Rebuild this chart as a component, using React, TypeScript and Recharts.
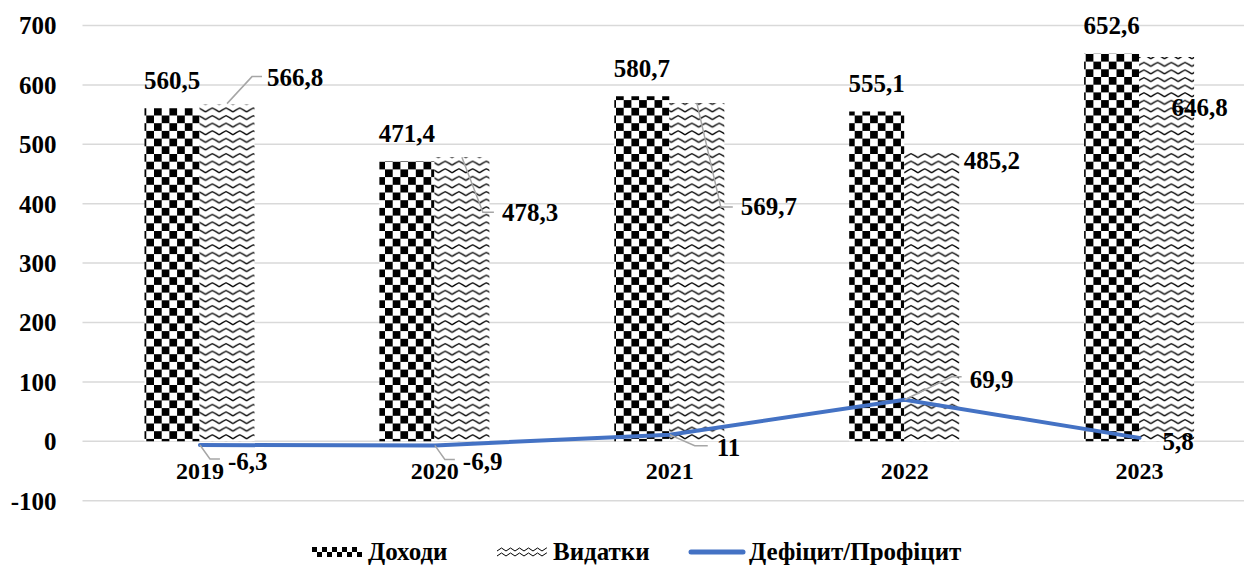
import React from "react";
import {
  ComposedChart,
  Bar,
  Line,
  XAxis,
  YAxis,
  CartesianGrid,
  Legend,
  LabelList,
} from "recharts";

// budget data, млрд грн
const years = ["2019", "2020", "2021", "2022", "2023"];
const income = [560.5, 471.4, 580.7, 555.1, 652.6];
const expenses = [566.8, 478.3, 569.7, 485.2, 646.8];
const balance = [-6.3, -6.9, 11, 69.9, 5.8];
const yTicks = [-100, 0, 100, 200, 300, 400, 500, 600, 700];

const data = years.map((year, i) => ({
  year,
  income: income[i],
  expenses: expenses[i],
  balance: balance[i],
}));

const FONT = '"Liberation Serif", "Times New Roman", serif';
const BLUE = "#4472C4";
const GRID = "#d9d9d9";
const LEADER = "#a6a6a6";

// manual label placement (relative to bar top / line point), like Excel's dragged labels
type Pos = { dx: number; dy: number; leader?: number[][] };
const EXP_POS: Pos[] = [
  { dx: 40, dy: -27, leader: [[0, -1], [25, -28], [35, -28]] },
  { dx: 40, dy: 55, leader: [[0, 0], [21, 55], [32, 55]] },
  { dx: 44, dy: 104, leader: [[0, 0], [24, 104], [36, 104]] },
  { dx: 32, dy: 7 },
  { dx: 5, dy: 50 },
];
const BAL_POS: Pos[] = [
  { dx: 28, dy: 16, leader: [[0, 0], [10, 14], [20, 14]] },
  { dx: 28, dy: 16, leader: [[0, 0], [10, 14], [20, 14]] },
  { dx: 47, dy: 13, leader: [[0, 0], [25, 11], [38, 11]] },
  { dx: 65, dy: -20, leader: [[0, 0], [47, -23], [57, -23]] },
  { dx: 23, dy: 4 },
];

// legend item start x, in page px
const LEGEND_ORDER = ["income", "expenses", "balance"];
const LEGEND_X = [312, 497, 688];

const fmt = (v: number) => String(v).replace(".", ",");

const labelText = {
  fontFamily: FONT,
  fontWeight: 700,
  fontSize: 25,
  fill: "#000",
};

function PlacedLabel({ ax, ay, pos, value }: { ax: number; ay: number; pos: Pos; value: number }) {
  return (
    <g>
      {pos.leader && (
        <polyline
          points={pos.leader.map(([dx, dy]) => `${ax + dx},${ay + dy}`).join(" ")}
          fill="none"
          stroke={LEADER}
          strokeWidth={1.5}
        />
      )}
      <text x={ax + pos.dx} y={ay + pos.dy} dominantBaseline="central" {...labelText}>
        {fmt(value)}
      </text>
    </g>
  );
}

const Patterns = () => (
  <defs>
    <pattern id="checker" width="15.4" height="15.4" patternUnits="userSpaceOnUse">
      <rect width="15.4" height="15.4" fill="#fff" />
      <rect width="7.7" height="7.7" fill="#000" />
      <rect x="7.7" y="7.7" width="7.7" height="7.7" fill="#000" />
    </pattern>
    <pattern id="wave" width="13.7" height="7.6" patternUnits="userSpaceOnUse">
      <rect width="13.7" height="7.6" fill="#fff" />
      <polyline points="0,5.6 3.4,3.4 6.85,1.6 10.3,3.4 13.7,5.6" fill="none" stroke="#000" strokeWidth="1.3" />
    </pattern>
  </defs>
);

function LegendSwatch({ kind }: { kind: string }) {
  if (kind === "balance") {
    return (
      <svg width={58} height={10} style={{ marginRight: 3 }}>
        <line x1={3} y1={5} x2={55} y2={5} stroke={BLUE} strokeWidth={5} strokeLinecap="round" />
      </svg>
    );
  }
  return (
    <svg width={50} height={10} style={{ marginRight: 6 }}>
      <defs>
        <pattern id="lgChecker" width="10" height="10" patternUnits="userSpaceOnUse">
          <rect width="10" height="10" fill="#fff" />
          <rect width="5" height="5" fill="#000" />
          <rect x="5" y="5" width="5" height="5" fill="#000" />
        </pattern>
        <pattern id="lgWave" width="9" height="5" patternUnits="userSpaceOnUse">
          <rect width="9" height="5" fill="#fff" />
          <polyline points="0,4 4.5,1 9,4" fill="none" stroke="#000" strokeWidth="1" />
        </pattern>
      </defs>
      <rect width={50} height={10} fill={kind === "income" ? "url(#lgChecker)" : "url(#lgWave)"} />
    </svg>
  );
}

const renderLegend = (props: any) => {
  const items = props.payload || [];
  return (
    <div style={{ position: "relative", width: 1244, height: 28 }}>
      {LEGEND_ORDER.map((key, i) => {
        const it = items.find((p: any) => p.dataKey === key);
        if (!it) return null;
        return (
          <div
            key={key}
            style={{
              position: "absolute",
              left: LEGEND_X[i],
              top: 0,
              height: 28,
              display: "flex",
              alignItems: "center",
              fontFamily: FONT,
              fontWeight: 700,
              fontSize: 25,
              color: "#000",
              whiteSpace: "nowrap",
            }}
          >
            <LegendSwatch kind={key} />
            <span>{it.value}</span>
          </div>
        );
      })}
    </div>
  );
};

export default function App() {
  return (
    <div
      style={{
        position: "absolute",
        top: 0,
        left: 0,
        width: 1244,
        height: 568,
        overflow: "hidden",
        background: "#fff",
        fontFamily: FONT,
      }}
    >
      <ComposedChart
        width={1257}
        height={568}
        data={data}
        margin={{ top: 25.5, right: 0, left: 22.5, bottom: 37.3 }}
        barGap={0}
        style={{ fontFamily: FONT }}
      >
        <Patterns />
        <CartesianGrid vertical={false} stroke={GRID} strokeWidth={1.5} />
        <XAxis
          dataKey="year"
          axisLine={false}
          tickLine={false}
          tickSize={0}
          tickMargin={0}
          height={30}
          tick={({ x, y, payload }: any) => (
            <text x={x} y={y - 30} textAnchor="middle" dominantBaseline="central" {...labelText} fontSize={24}>
              {payload.value}
            </text>
          )}
        />
        <YAxis
          domain={[-100, 700]}
          ticks={yTicks}
          width={60}
          axisLine={false}
          tickLine={false}
          tickSize={0}
          tickMargin={26}
          tick={{ ...labelText }}
        />
        <Legend
          layout="horizontal"
          verticalAlign="middle"
          align="center"
          content={renderLegend}
          wrapperStyle={{ top: 538, left: 0, width: 1244, height: 28 }}
        />
        <Bar dataKey="income" name="Доходи" barSize={55} fill="url(#checker)" isAnimationActive={false}>
          <LabelList
            dataKey="income"
            content={(p: any) => (
              <text
                x={p.x + p.width / 2}
                y={p.y - 28}
                textAnchor="middle"
                dominantBaseline="central"
                {...labelText}
              >
                {fmt(p.value)}
              </text>
            )}
          />
        </Bar>
        <Bar dataKey="expenses" name="Видатки" barSize={55} fill="url(#wave)" isAnimationActive={false}>
          <LabelList
            dataKey="expenses"
            content={(p: any) => (
              <PlacedLabel ax={p.x + p.width / 2} ay={p.y} pos={EXP_POS[p.index]} value={p.value} />
            )}
          />
        </Bar>
        <Line
          dataKey="balance"
          name="Дефіцит/Профіцит"
          stroke={BLUE}
          strokeWidth={4}
          strokeLinecap="round"
          dot={false}
          isAnimationActive={false}
        >
          <LabelList
            dataKey="balance"
            content={(p: any) => <PlacedLabel ax={p.x} ay={p.y} pos={BAL_POS[p.index]} value={p.value} />}
          />
        </Line>
      </ComposedChart>
    </div>
  );
}
